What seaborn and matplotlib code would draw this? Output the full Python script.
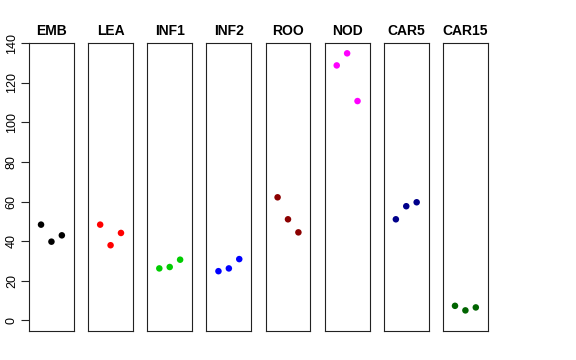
import matplotlib
matplotlib.use("Agg")
import matplotlib.pyplot as plt
import pandas as pd
import seaborn as sns

# Tissues and their three replicate values
tissues = ["EMB", "LEA", "INF1", "INF2", "ROO", "NOD", "CAR5", "CAR15"]
rep1 = [48.4, 48.4, 26.3, 24.9, 62.2, 128.8, 51.1, 7.4]
rep2 = [39.8, 38.0, 27.0, 26.3, 51.1, 134.9, 57.7, 5.1]
rep3 = [43.0, 44.2, 30.7, 31.0, 44.5, 110.8, 59.7, 6.6]
colors = ["#000000", "#FF0000", "#00CD00", "#0000FF",
          "#8B0000", "#FF00FF", "#00008B", "#006400"]

# Long format: one row per point
rows = []
for t, a, b, c in zip(tissues, rep1, rep2, rep3):
    for rep, val in zip([1, 2, 3], [a, b, c]):
        rows.append({"tissue": t, "rep": rep, "value": val})
df = pd.DataFrame(rows)

sns.set_style("white")
plt.rcParams["font.family"] = ["Liberation Sans", "DejaVu Sans"]
plt.rcParams["text.color"] = "black"
plt.rcParams["ytick.color"] = "black"
plt.rcParams["axes.labelcolor"] = "black"

fig, axes = plt.subplots(1, 8, figsize=(5.76, 3.6), dpi=100, sharey=True)
fig.subplots_adjust(left=0.0503, right=0.847, top=0.881, bottom=0.0806, wspace=0.316)

for i, (ax, t, col) in enumerate(zip(axes, tissues, colors)):
    sub = df[df["tissue"] == t]
    sns.scatterplot(data=sub, x="rep", y="value", color=col, s=22,
                    edgecolor="none", ax=ax, legend=False)
    ax.set_xlim(-0.16, 4.16)
    ax.set_ylim(-5.3, 140.2)
    ax.set_title(t, fontsize=10, fontweight="bold", pad=6, color="black")
    ax.set_xlabel("")
    ax.set_ylabel("")
    ax.set_xticks([])
    for sp in ax.spines.values():
        sp.set_visible(True)
        sp.set_color("#222222")
        sp.set_linewidth(0.8)
    if i == 0:
        ax.set_yticks([0, 20, 40, 60, 80, 100, 120, 140])
        ax.tick_params(axis="y", left=True, length=6, width=0.8,
                       color="#222222", labelcolor="black", labelsize=9, pad=2)
        for lab in ax.get_yticklabels():
            lab.set_rotation(90)
            lab.set_va("center")
    else:
        ax.tick_params(axis="y", left=False)

fig.savefig("out.png", dpi=100)
